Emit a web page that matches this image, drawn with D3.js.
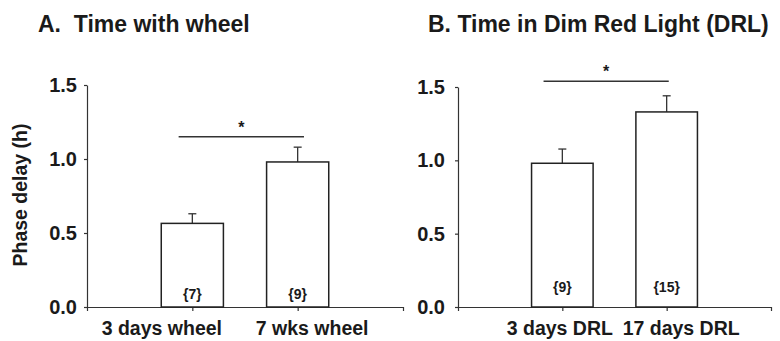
<!DOCTYPE html>
<html>
<head>
<meta charset="utf-8">
<script src="https://cdn.jsdelivr.net/npm/d3@7"></script>
<style>
  body { margin: 0; background: #fff; }
  svg { font-family: "Liberation Sans", Arial, sans-serif; }
  .title { font-size: 23px; font-weight: bold; fill: #1a1a1a; white-space: pre; }
  .axis path, .axis line { stroke: #333; stroke-width: 1.2; }
  .axis text { font-weight: bold; fill: #1a1a1a; font-family: "Liberation Sans", Arial, sans-serif; }
</style>
</head>
<body>
<svg id="chart" width="780" height="341"></svg>
<script>
// ===============================
// DATA
// ===============================
const titles = ["A.  Time with wheel", "B. Time in Dim Red Light (DRL)"];
const categoriesA = ["3 days wheel", "7 wks wheel"];
const categoriesB = ["3 days DRL", "17 days DRL"];
const valuesA = [0.565, 0.98];
const valuesB = [0.98, 1.33];
const errorsA = [0.065, 0.10];
const errorsB = [0.097, 0.11];
const countsA = ["{7}", "{9}"];
const countsB = ["{9}", "{15}"];
const yTicks = [0, 0.5, 1.0, 1.5];
// significance bar: [from, to, height] in x positions / phase delay
const sigA = [0.87, 2.06, 1.15];
const sigB = [0.82, 2.02, 1.54];
const yTitle = "Phase delay (h)";

const svg = d3.select("#chart");

function drawPanel(cfg) {
    const x = d3.scaleLinear().domain([0, 3]).range([cfg.left, cfg.right]);
    const y = d3.scaleLinear().domain([0, 1.5]).range([307, cfg.top]);
    const g = svg.append("g");

    g.append("text")
        .attr("class", "title")
        .attr("x", cfg.titleX)
        .attr("y", 32)
        .text(cfg.title);

    // x axis
    const xAxis = g.append("g")
        .attr("class", "axis")
        .attr("transform", `translate(0,${y(0)})`)
        .call(d3.axisBottom(x)
            .tickValues([0, 1, 2, 3])
            .tickSize(4)
            .tickSizeOuter(0)
            .tickFormat(d => cfg.categories[d - 1] || ""));
    xAxis.selectAll("text")
        .attr("font-size", 19.5)
        .attr("y", 28)
        .attr("dy", 0)
        .attr("dx", d => cfg.labelShift[d - 1] || 0);

    // y axis
    const yAxis = g.append("g")
        .attr("class", "axis")
        .attr("transform", `translate(${cfg.left},0)`)
        .call(d3.axisLeft(y)
            .tickValues(yTicks)
            .tickSize(3)
            .tickSizeOuter(0)
            .tickPadding(cfg.tickPad)
            .tickFormat(d3.format(".1f")));
    yAxis.selectAll("text").attr("font-size", 20);

    const idx = cfg.values.map((v, i) => i);
    const half = 0.295;

    // error bars (drawn before bars so the bar edge sits on top)
    idx.forEach(i => {
        const cx = x(i + 1);
        g.append("line")
            .attr("x1", cx).attr("x2", cx)
            .attr("y1", y(cfg.values[i]))
            .attr("y2", y(cfg.values[i] + cfg.errors[i]))
            .attr("stroke", "#333").attr("stroke-width", 1.3);
        g.append("line")
            .attr("x1", cx - 4).attr("x2", cx + 4)
            .attr("y1", y(cfg.values[i] + cfg.errors[i]))
            .attr("y2", y(cfg.values[i] + cfg.errors[i]))
            .attr("stroke", "#333").attr("stroke-width", 1.3);
    });

    g.selectAll("rect.bar")
        .data(cfg.values)
        .enter()
        .append("rect")
        .attr("class", "bar")
        .attr("x", (d, i) => x(i + 1 - half))
        .attr("width", (d, i) => x(i + 1 + half) - x(i + 1 - half))
        .attr("y", d => y(d))
        .attr("height", d => y(0) - y(d))
        .attr("fill", "#fff")
        .attr("stroke", "#222")
        .attr("stroke-width", 1.5);

    g.selectAll("text.count")
        .data(cfg.counts)
        .enter()
        .append("text")
        .attr("class", "count")
        .attr("x", (d, i) => x(i + 1))
        .attr("y", y(0) - cfg.countLift)
        .attr("text-anchor", "middle")
        .attr("font-size", 14)
        .attr("font-weight", "bold")
        .attr("fill", "#1a1a1a")
        .text(d => d);

    // significance
    g.append("line")
        .attr("x1", x(cfg.sig[0])).attr("x2", x(cfg.sig[1]))
        .attr("y1", y(cfg.sig[2])).attr("y2", y(cfg.sig[2]))
        .attr("stroke", "#333").attr("stroke-width", 1.5);
    g.append("text")
        .attr("x", (x(cfg.sig[0]) + x(cfg.sig[1])) / 2)
        .attr("y", y(cfg.sig[2]) - 4)
        .attr("text-anchor", "middle")
        .attr("font-size", 16)
        .attr("font-weight", "bold")
        .attr("fill", "#1a1a1a")
        .text("*");
}

drawPanel({
    title: titles[0], titleX: 38, left: 87, right: 403, top: 85, tickPad: 7,
    categories: categoriesA, values: valuesA, errors: errorsA, counts: countsA,
    sig: sigA, labelShift: [-31, 14], countLift: 8
});

drawPanel({
    title: titles[1], titleX: 428, left: 458, right: 771, top: 87, tickPad: 10,
    categories: categoriesB, values: valuesB, errors: errorsB, counts: countsB,
    sig: sigB, labelShift: [-3, 14], countLift: 15
});

svg.append("text")
    .attr("transform", "translate(27,195) rotate(-90)")
    .attr("text-anchor", "middle")
    .attr("font-size", 19.5)
    .attr("font-weight", "bold")
    .attr("fill", "#1a1a1a")
    .text(yTitle);
</script>
</body>
</html>
